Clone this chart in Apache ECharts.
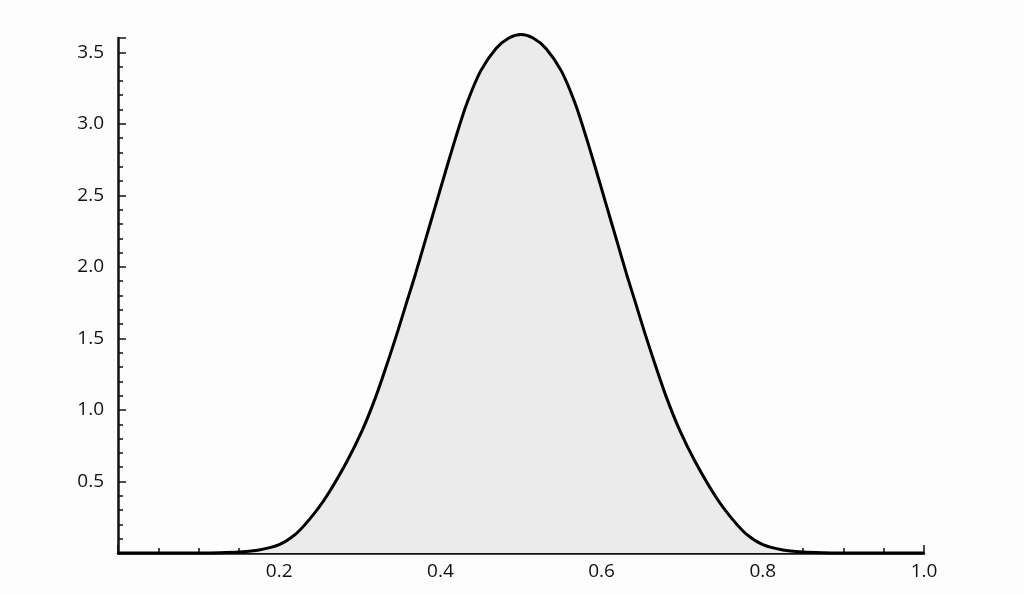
<!DOCTYPE html>
<html>
<head>
<meta charset="utf-8">
<title>density</title>
<script src="https://cdn.jsdelivr.net/npm/echarts@6/dist/echarts.min.js"></script>
<style>
  html, body { margin: 0; padding: 0; background: #fdfdfd; }
  #chart { width: 1024px; height: 595px; }
</style>
</head>
<body>
<div id="chart"></div>
<script>
// points (x, height); denser where the curve bends
const xValues = [
  0, 0.05, 0.1, 0.125, 0.15, 0.175, 0.2, 0.22, 0.2375, 0.258,
  0.284, 0.304, 0.32, 0.334, 0.3475, 0.358, 0.369, 0.381, 0.3935, 0.406,
  0.4185, 0.433, 0.45, 0.469, 0.485,
  0.5,
  0.515, 0.531, 0.55, 0.567, 0.5815, 0.594, 0.6065, 0.619, 0.631, 0.642,
  0.6525, 0.666, 0.68, 0.696, 0.716, 0.742, 0.7625, 0.78, 0.8, 0.825,
  0.85, 0.875, 0.9, 0.95, 1
];
const density = [
  0, 0, 0.0005, 0.002, 0.007, 0.021, 0.058, 0.13, 0.235, 0.39,
  0.64, 0.87, 1.095, 1.324, 1.558, 1.75, 1.949, 2.18, 2.42, 2.66,
  2.895, 3.145, 3.37, 3.527, 3.60,
  3.625,
  3.60, 3.527, 3.37, 3.145, 2.895, 2.66, 2.42, 2.18, 1.949, 1.75,
  1.558, 1.324, 1.095, 0.87, 0.64, 0.39, 0.235, 0.13, 0.058, 0.021,
  0.007, 0.002, 0.0005, 0, 0
];

const axisColor = '#111';
const labelColor = '#111';
const fillColor = '#ebebeb';

const points = xValues.map((x, i) => [x, density[i]]);

const chart = echarts.init(document.getElementById('chart'));

chart.setOption({
  backgroundColor: '#fdfdfd',
  animation: false,
  grid: {
    left: 118,
    right: 100,
    top: 38,
    bottom: 42
  },
  xAxis: {
    type: 'value',
    min: 0,
    max: 1,
    interval: 0.2,
    axisLine: { lineStyle: { color: axisColor, width: 2.5 } },
    axisTick: { inside: true, length: 8, lineStyle: { color: axisColor, width: 1.5 } },
    minorTick: { show: true, splitNumber: 4, length: 5, lineStyle: { color: axisColor, width: 1.5 } },
    splitLine: { show: false },
    axisLabel: {
      margin: 9,
      color: labelColor,
      fontFamily: 'Open Sans',
      fontSize: 19,
      // no label at the origin
      formatter: (v) => (v === 0 ? '' : v.toFixed(1))
    }
  },
  yAxis: {
    type: 'value',
    min: 0,
    max: 3.6,
    interval: 0.5,
    axisLine: { lineStyle: { color: axisColor, width: 2.5 } },
    axisTick: { inside: true, length: 8, lineStyle: { color: axisColor, width: 1.5 } },
    minorTick: { show: true, splitNumber: 5, length: 5, lineStyle: { color: axisColor, width: 1.5 } },
    splitLine: { show: false },
    axisLabel: {
      margin: 14,
      color: labelColor,
      fontFamily: 'Open Sans',
      fontSize: 19,
      // hide 0 and the 3.6 end label
      formatter: (v) => (v === 0 || v > 3.55 ? '' : v.toFixed(1))
    }
  },
  series: [
    {
      type: 'line',
      data: points,
      smooth: 0.3,
      showSymbol: false,
      clip: false,
      lineStyle: { color: '#000', width: 3 },
      areaStyle: { color: fillColor, opacity: 1 }
    }
  ]
});
</script>
</body>
</html>
